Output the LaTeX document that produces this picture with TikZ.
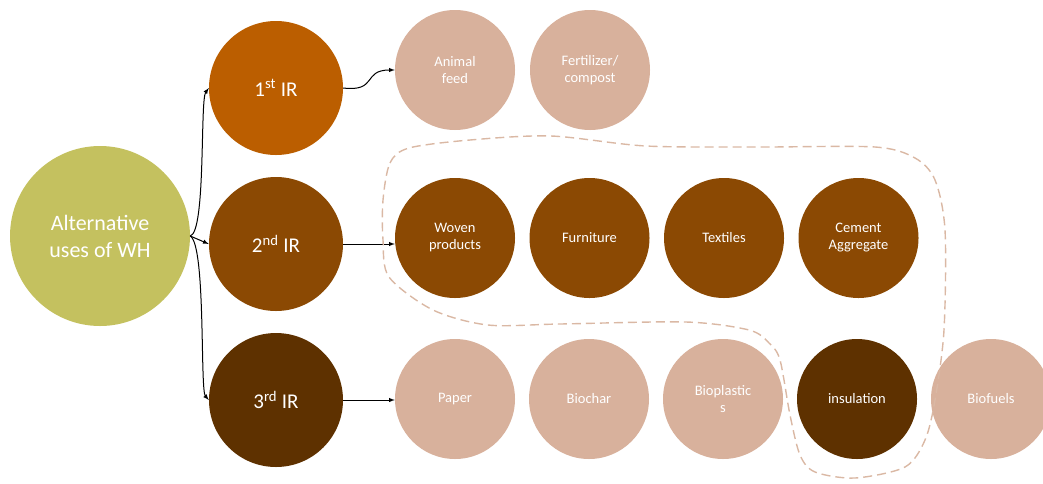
\documentclass[tikz,border=0pt]{standalone}
\usepackage{fontspec}
\setmainfont{Carlito}
\definecolor{olivewh}{RGB}{196,193,95}
\definecolor{irone}{RGB}{187,94,0}
\definecolor{irtwo}{RGB}{139,73,3}
\definecolor{irthree}{RGB}{94,49,0}
\definecolor{lightuse}{RGB}{216,177,156}
\definecolor{dashcol}{RGB}{218,184,164}

\begin{document}
\begin{tikzpicture}
[   x=1pt, y=-1pt,
    cnode/.style={circle,fill=#1,minimum size=120pt,inner sep=0pt,text=white,align=center,font=\fontsize{14.5}{17}\selectfont},
    irnode/.style={circle,fill=#1,minimum size=134pt,inner sep=0pt,text=white,font=\fontsize{21}{25}\selectfont},
    link/.style={->,>=latex,line width=1pt,black},
    outline/.style={dashcol,line width=1.4pt,dash pattern=on 9pt off 5pt},
]
    \useasboundingbox (0,0) rectangle (1043,483);

    \node[circle,fill=olivewh,minimum size=180pt,inner sep=0pt,text=white,align=center,font=\fontsize{22}{27}\selectfont] (alt) at (100,236) {Alternative\\uses of WH};

    \node[irnode=irone] (ir-1) at (276,88) {1\textsuperscript{st} IR};
    \node[irnode=irtwo] (ir-2) at (276,244) {2\textsuperscript{nd} IR};
    \node[irnode=irthree] (ir-3) at (276,400) {3\textsuperscript{rd} IR};

    % first row
    \foreach \lbl [count=\i] in {{Animal\\feed},{Fertilizer/\\compost}}
    {   \node[cnode=lightuse] (top-\i) at ({455+(\i-1)*135},70) {\lbl};
    }

    % second row
    \foreach \lbl [count=\i] in {{Woven\\products},Furniture,Textiles,{Cement\\Aggregate}}
    {   \node[cnode=irtwo] (mid-\i) at ({455+(\i-1)*134.5},238) {\lbl};
    }

    % third row
    \foreach \lbl/\col [count=\i] in {Paper/lightuse,Biochar/lightuse,{Bioplastic\\s}/lightuse,insulation/irthree,Biofuels/lightuse}
    {   \node[cnode=\col] (bot-\i) at ({455+(\i-1)*134},399) {\lbl};
    }

    \draw[link] (alt.east) .. controls (206,232) and (200,100) .. (ir-1.west);
    \draw[link] (alt.east) -- (ir-2.west);
    \draw[link] (alt.east) .. controls (206,245) and (200,390) .. (ir-3.west);

    \draw[link] (ir-1.east) .. controls (378,92) and (362,70) .. (top-1.west);
    \draw[link] (ir-2.east) -- (ir-2.east -| mid-1.west);
    \draw[link] (ir-3.east) -- (ir-3.east -| bot-1.west);

    \draw[outline] plot[smooth cycle,tension=0.5] coordinates {
        (383,200) (390,163) (409,148) (470,140) (551,136) (646,146) (760,147) (875,147)
        (915,158) (935,180) (945,230) (944,330) (935,400) (925,440) (905,467) (855,478)
        (815,472) (800,455) (790,415) (780,360) (769,343) (749,330) (686,322) (560,324)
        (488,325) (433,310) (389,277) (383,240)};
\end{tikzpicture}
\end{document}
